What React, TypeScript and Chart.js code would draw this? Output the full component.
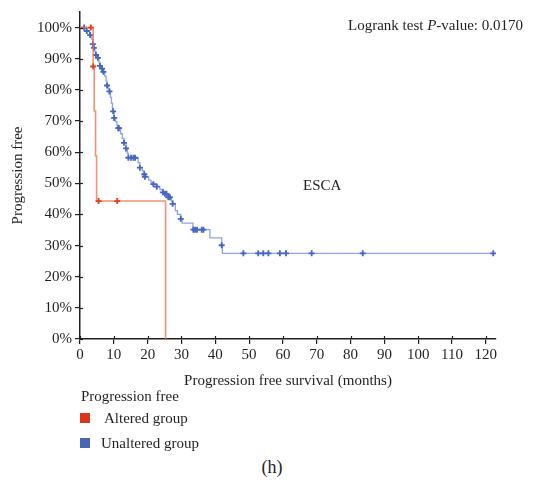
import React, { useEffect, useRef } from 'react';
import { Chart, registerables } from 'chart.js';

Chart.register(...registerables);

const FONT = '"Liberation Serif", "Times New Roman", serif';
const INK = '#231f20';

// Axis ticks
const xTickValues = [0, 10, 20, 30, 40, 50, 60, 70, 80, 90, 100, 110, 120];
const yTickValues = [0, 10, 20, 30, 40, 50, 60, 70, 80, 90, 100];

// Altered group (Kaplan-Meier steps, % progression free)
const alteredEventTimes = [0, 3.9, 4.2, 4.6, 4.9, 25.3];
const alteredSurvival = [100, 87.5, 73.2, 58.8, 44.3, 0];
const alteredCensorTimes = [3.2, 3.9, 5.5, 11.0];

// Unaltered group
const unalteredEventTimes = [
  0, 1.8, 2.8, 3.5, 3.8, 4.0, 4.4, 4.7, 5.1, 5.6, 5.9, 6.3, 6.8, 7.3, 7.7, 8.0, 8.4, 8.7,
  9.0, 9.3, 9.6, 9.8, 10.1, 10.5, 10.9, 11.3, 12.0, 12.5, 13.0, 13.6, 14.0, 14.3, 17.2,
  17.7, 18.4, 19.0, 19.2, 20.3, 21.0, 21.7, 22.7, 23.6, 24.5, 25.1, 26.1, 27.0, 27.4,
  28.2, 28.8, 29.8, 30.2, 33.4, 38.4, 41.9, 42.1,
];
const unalteredSurvival = [
  100, 98.9, 97.6, 96.2, 94.7, 93.5, 92.3, 91.2, 90.3, 88.9, 87.7, 86.8, 85.8, 84.4, 82.8,
  81.4, 80.3, 79.5, 77.6, 75.7, 74.0, 73.1, 71.0, 69.8, 68.7, 67.7, 65.9, 64.4, 63.0, 61.2,
  59.6, 58.2, 56.6, 55.0, 54.0, 52.9, 52.1, 51.0, 50.2, 49.7, 48.9, 48.0, 47.1, 46.6, 45.5,
  44.4, 43.4, 41.2, 40.0, 38.6, 37.2, 35.1, 32.5, 30.1, 27.5,
];
const unalteredCensorTimes = [
  1.2, 2.0, 3.0, 3.8, 4.1, 4.7, 5.3, 5.9, 6.5, 6.9, 8.0, 8.7, 9.8, 10.1, 11.3, 11.5, 13.0,
  13.6, 14.3, 15.1, 15.8, 16.3, 17.7, 19.0, 19.2, 21.7, 22.7, 24.5, 25.1, 25.6, 26.1, 26.6,
  27.4, 29.8, 33.5, 34.0, 34.6, 36.0, 36.5, 41.9, 48.3, 52.7, 54.2, 55.7, 59.1, 60.9, 68.5,
  83.6, 122.2,
];

const ALT_LINE = 'rgba(236, 110, 75, 0.75)';
const ALT_MARK = '#e0401c';
const UNALT_LINE = '#8ea5e2';
const UNALT_MARK = '#4565c4';

function stepValue(times: number[], surv: number[], t: number) {
  let v = surv[0];
  for (let i = 0; i < times.length; i++) if (times[i] <= t) v = surv[i];
  return v;
}

function curve(times: number[], surv: number[], extendTo?: number) {
  const pts = times.map((t, i) => ({ x: t, y: surv[i] }));
  if (extendTo !== undefined && extendTo > times[times.length - 1]) {
    pts.push({ x: extendTo, y: surv[surv.length - 1] });
  }
  return pts;
}

function marks(times: number[], surv: number[], censors: number[]) {
  return censors.map((t) => ({ x: t, y: stepValue(times, surv, t) }));
}

const axisDecor = {
  id: 'axisDecor',
  afterDatasetsDraw(chart: any) {
    const { ctx, scales } = chart;
    const x = scales.x;
    const y = scales.y;
    ctx.save();
    ctx.strokeStyle = INK;
    ctx.lineWidth = 1.2;
    x.ticks.forEach((t: any) => {
      const px = Math.round(x.getPixelForValue(t.value)) + 0.5;
      ctx.beginPath();
      ctx.moveTo(px, y.bottom);
      ctx.lineTo(px, y.bottom - 3);
      ctx.stroke();
    });
    y.ticks.forEach((t: any) => {
      const py = Math.round(y.getPixelForValue(t.value)) + 0.5;
      ctx.beginPath();
      ctx.moveTo(x.left, py);
      ctx.lineTo(x.left + 3, py);
      ctx.stroke();
    });
    ctx.font = `15px ${FONT}`;
    ctx.fillStyle = INK;
    ctx.textAlign = 'center';
    ctx.textBaseline = 'middle';
    ctx.fillText('ESCA', x.getPixelForValue(71.6), y.getPixelForValue(49.2));
    ctx.restore();
  },
};

function KMChart() {
  const ref = useRef<HTMLCanvasElement | null>(null);
  useEffect(() => {
    if (!ref.current) return;
    const lastCensor = unalteredCensorTimes[unalteredCensorTimes.length - 1];
    const chart = new Chart(ref.current, {
      type: 'line',
      data: {
        datasets: [
          {
            label: 'Altered censored',
            data: marks(alteredEventTimes, alteredSurvival, alteredCensorTimes),
            showLine: false,
            pointStyle: 'cross',
            pointRadius: 3,
            pointBorderWidth: 1.8,
            borderColor: ALT_MARK,
            backgroundColor: ALT_MARK,
          },
          {
            label: 'Altered group',
            data: curve(alteredEventTimes, alteredSurvival),
            stepped: true,
            borderColor: ALT_LINE,
            borderWidth: 1.6,
            pointRadius: 0,
            fill: false,
          },
          {
            label: 'Unaltered censored',
            data: marks(unalteredEventTimes, unalteredSurvival, unalteredCensorTimes),
            showLine: false,
            pointStyle: 'cross',
            pointRadius: 3,
            pointBorderWidth: 1.8,
            borderColor: UNALT_MARK,
            backgroundColor: UNALT_MARK,
          },
          {
            label: 'Unaltered group',
            data: curve(unalteredEventTimes, unalteredSurvival, lastCensor),
            stepped: true,
            borderColor: UNALT_LINE,
            borderWidth: 1.3,
            pointRadius: 0,
            fill: false,
          },
        ],
      },
      options: {
        responsive: false,
        animation: false,
        parsing: false as any,
        layout: { padding: { left: 0, right: 43, top: 10, bottom: 0 } },
        plugins: {
          legend: { display: false },
          tooltip: { enabled: false },
        },
        scales: {
          x: {
            type: 'linear',
            min: 0,
            max: 123,
            afterBuildTicks: (s: any) => {
              s.ticks = xTickValues.map((v) => ({ value: v }));
            },
            afterFit: (s: any) => {
              s.height = 55;
            },
            ticks: {
              autoSkip: false,
              maxRotation: 0,
              padding: 2,
              color: INK,
              font: { family: FONT, size: 15 },
            },
            grid: {
              display: true,
              drawOnChartArea: false,
              drawTicks: true,
              tickLength: 5,
              color: INK,
              lineWidth: 1.2,
            },
            border: { display: true, color: INK, width: 1.5 },
            title: {
              display: true,
              text: 'Progression free survival (months)',
              color: INK,
              font: { family: FONT, size: 15 },
              padding: { top: 4, bottom: 4 },
            },
          },
          y: {
            type: 'linear',
            min: 0,
            max: 105,
            afterBuildTicks: (s: any) => {
              s.ticks = yTickValues.map((v) => ({ value: v }));
            },
            afterFit: (s: any) => {
              s.width = 80;
            },
            ticks: {
              autoSkip: false,
              padding: 3,
              color: INK,
              font: { family: FONT, size: 15 },
              callback: (v: any) => `${v}%`,
            },
            grid: {
              display: true,
              drawOnChartArea: false,
              drawTicks: true,
              tickLength: 5,
              color: INK,
              lineWidth: 1.2,
            },
            border: { display: true, color: INK, width: 1.5 },
            title: {
              display: true,
              text: 'Progression free',
              color: INK,
              font: { family: FONT, size: 15 },
              padding: { top: 9, bottom: 4 },
            },
          },
        },
      },
      plugins: [axisDecor],
    });
    return () => chart.destroy();
  }, []);
  return (
    <canvas
      ref={ref}
      width={539}
      height={394}
      style={{ position: 'absolute', left: 0, top: 0, width: 539, height: 394 }}
    />
  );
}

const textBase: React.CSSProperties = {
  position: 'absolute',
  fontFamily: FONT,
  fontSize: 15,
  lineHeight: '18px',
  color: INK,
  whiteSpace: 'nowrap',
};

export default function App() {
  return (
    <div
      style={{
        position: 'absolute',
        left: 0,
        top: 0,
        width: 539,
        height: 487,
        background: '#fff',
        overflow: 'hidden',
      }}
    >
      <KMChart />
      <div style={{ ...textBase, right: 16, top: 16 }}>
        Logrank test <i>P</i>-value: 0.0170
      </div>
      <div style={{ ...textBase, left: 81, top: 387 }}>Progression free</div>
      <div
        style={{ position: 'absolute', left: 80, top: 413, width: 10, height: 10, background: '#d9381e' }}
      />
      <div style={{ ...textBase, left: 104, top: 409 }}>Altered group</div>
      <div
        style={{ position: 'absolute', left: 80, top: 438, width: 10, height: 10, background: '#4a65b5' }}
      />
      <div style={{ ...textBase, left: 101, top: 434 }}>Unaltered group</div>
      <div
        style={{
          ...textBase,
          fontSize: 18,
          lineHeight: '22px',
          left: 272,
          top: 456,
          transform: 'translateX(-50%)',
        }}
      >
        (h)
      </div>
    </div>
  );
}
